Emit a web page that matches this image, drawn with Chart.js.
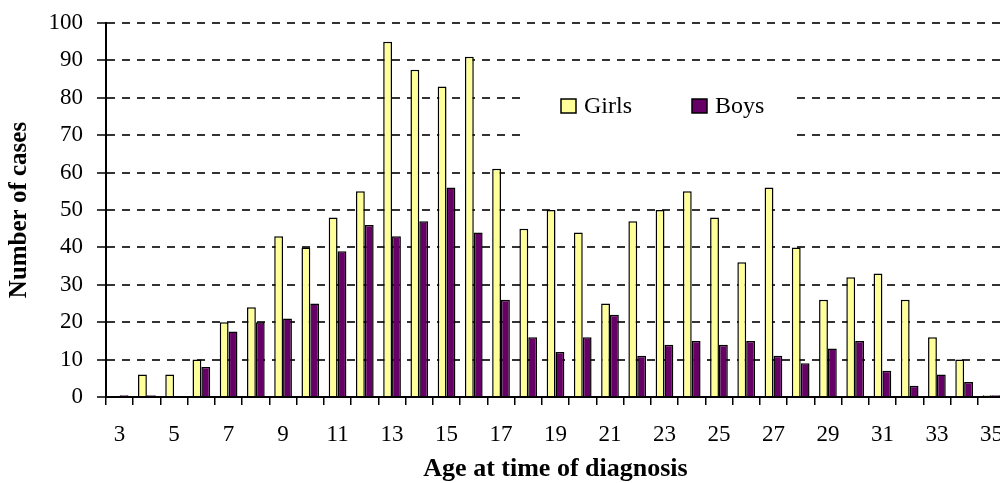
<!DOCTYPE html>
<html>
<head>
<meta charset="utf-8">
<script src="https://cdn.jsdelivr.net/npm/chart.js@4.4.1/dist/chart.umd.min.js"></script>
<style>
  html, body { margin: 0; padding: 0; background: #fff; overflow: hidden; }
  #wrap { width: 1000px; height: 483px; overflow: hidden; }
</style>
</head>
<body>
<div id="wrap"><canvas id="myChart" width="1006" height="483"></canvas></div>
<script>
'use strict';

const ctx = document.getElementById('myChart');

let ages = ['3', '4', '5', '6', '7', '8', '9', '10', '11', '12', '13', '14', '15', '16', '17', '18', '19',
  '20', '21', '22', '23', '24', '25', '26', '27', '28', '29', '30', '31', '32', '33', '34', '35'];
let girlsArray = [0, 6, 6, 10, 20, 24, 43, 40, 48, 55, 95, 87.5, 83, 91, 61, 45, 50,
  44, 25, 47, 50, 55, 48, 36, 56, 40, 26, 32, 33, 26, 16, 10, 0.5];
let boysArray = [0.5, 0.5, 0, 8, 17.5, 20, 21, 25, 39, 46, 43, 47, 56, 44, 26, 16, 12,
  16, 22, 11, 14, 15, 14, 15, 11, 9, 13, 15, 7, 3, 6, 4, 0.5];
let yTicks = [0, 10, 20, 30, 40, 50, 60, 70, 80, 90, 100];

const serif = '"Liberation Serif", "Times New Roman", serif';

// legend drawn inside the plot, on a white patch that cuts the grid lines
const insideLegend = {
  id: 'insideLegend',
  beforeDatasetsDraw(chart) {
    const c = chart.ctx;
    c.save();
    c.fillStyle = '#fff';
    c.fillRect(523, 86, 270, 58);
    c.font = '24px ' + serif;
    c.textBaseline = 'middle';
    const spots = [561, 692];
    chart.data.datasets.forEach((ds, i) => {
      const x = spots[i];
      c.fillStyle = ds.backgroundColor;
      c.fillRect(x, 99, 15, 14);
      c.strokeStyle = '#000';
      c.lineWidth = 1.5;
      c.strokeRect(x, 99, 15, 14);
      c.fillStyle = '#000';
      c.fillText(ds.label, x + 23, 107);
    });
    c.restore();
  }
};

function buildChart() {
  let chartObj = {
    type: 'bar',
    data: {
      labels: ages,
      datasets: [{
        label: 'Girls',
        data: girlsArray,
        backgroundColor: '#FFFF99',
        borderColor: '#000',
        borderWidth: 1.5,
        barPercentage: 1,
        categoryPercentage: 0.65
      },
      {
        label: 'Boys',
        data: boysArray,
        backgroundColor: '#660066',
        borderColor: '#000',
        borderWidth: 1.5,
        barPercentage: 1,
        categoryPercentage: 0.65
      }]
    },
    options: {
      responsive: false,
      animation: false,
      layout: { padding: { top: 23, right: 1, bottom: 0, left: 0 } },
      plugins: {
        legend: { display: false },
        tooltip: { enabled: false }
      },
      scales: {
        x: {
          afterFit(scale) {
            scale.height = 86;
            scale.paddingLeft = 0;
            scale.paddingRight = 0;
          },
          grid: {
            display: true,
            drawOnChartArea: false,
            drawTicks: true,
            tickLength: 8,
            color: '#000',
            lineWidth: 1.5,
            offset: true
          },
          border: { display: true, color: '#000', width: 2 },
          ticks: {
            autoSkip: false,
            maxRotation: 0,
            padding: 16,
            color: '#000',
            font: { family: serif, size: 23 },
            callback: function (val, i) { return i % 2 === 0 ? this.getLabelForValue(val) : ''; }
          },
          title: {
            display: true,
            text: 'Age at time of diagnosis',
            color: '#000',
            font: { family: serif, size: 26, weight: 'bold' },
            padding: { top: 0, bottom: -2 }
          }
        },
        y: {
          min: 0,
          max: 100,
          afterFit(scale) {
            scale.width = 106;
            scale.paddingTop = 0;
            scale.paddingBottom = 0;
          },
          afterBuildTicks(scale) { scale.ticks = yTicks.map(v => ({ value: v })); },
          grid: {
            color: '#333',
            lineWidth: 2,
            tickLength: 9,
            tickColor: '#000',
            tickWidth: 1.5,
            tickBorderDash: []
          },
          border: { display: true, color: '#000', width: 2, dash: [8, 7] },
          ticks: {
            padding: 14,
            color: '#000',
            font: { family: serif, size: 23 }
          },
          title: {
            display: true,
            text: 'Number of cases',
            color: '#000',
            font: { family: serif, size: 25, weight: 'bold' },
            padding: { top: 5, bottom: 0 }
          }
        }
      }
    },
    plugins: [insideLegend]
  };
  new Chart(ctx, chartObj);
}

buildChart();
</script>
</body>
</html>
